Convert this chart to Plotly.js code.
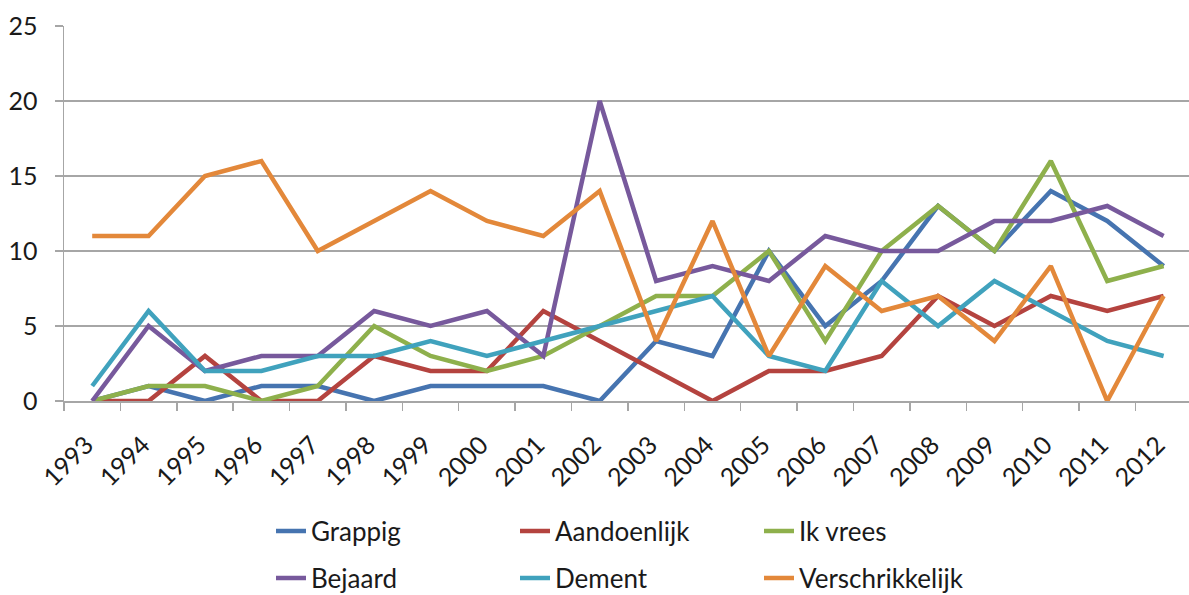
<!DOCTYPE html>
<html>
<head>
<meta charset="utf-8">
<script src="https://cdn.plot.ly/plotly-3.0.1.min.js"></script>
<style>
  html, body { margin: 0; padding: 0; background: #fff; }
  #chart { width: 1189px; height: 595px; }
</style>
</head>
<body>
<div id="chart"></div>
<script>
const years = ["1993","1994","1995","1996","1997","1998","1999","2000","2001","2002",
               "2003","2004","2005","2006","2007","2008","2009","2010","2011","2012"];

const grappig         = [0,1,0,1,1,0,1,1,1,0,4,3,10,5,8,13,10,14,12,9];
const aandoenlijk     = [0,0,3,0,0,3,2,2,6,4,2,0,2,2,3,7,5,7,6,7];
const ikVrees         = [0,1,1,0,1,5,3,2,3,5,7,7,10,4,10,13,10,16,8,9];
const bejaard         = [0,5,2,3,3,6,5,6,3,20,8,9,8,11,10,10,12,12,13,11];
const dement          = [1,6,2,2,3,3,4,3,4,5,6,7,3,2,8,5,8,6,4,3];
const verschrikkelijk = [11,11,15,16,10,12,14,12,11,14,4,12,3,9,6,7,4,9,0,7];

const seriesNames = ["Grappig","Aandoenlijk","Ik vrees","Bejaard","Dement","Verschrikkelijk"];
const seriesData  = [grappig, aandoenlijk, ikVrees, bejaard, dement, verschrikkelijk];
const colors = ["#4674B0","#B4433F","#8EB04C","#77599C","#40A2BD","#E3883A"];
const legendOf = ["legend","legend","legend","legend2","legend2","legend2"];

const FONT = "Lato, 'Liberation Sans', sans-serif";
const TXT = "#1a1a1a";
const GRID = "#A6A6A6";

const traces = seriesNames.map((name, i) => ({
  type: "scatter",
  mode: "lines",
  name: name,
  x: years,
  y: seriesData[i],
  line: { color: colors[i], width: 4.5 },
  legend: legendOf[i],
  hoverinfo: "x+y+name"
}));

const legendBase = {
  orientation: "h",
  xref: "container",
  yref: "container",
  xanchor: "left",
  yanchor: "middle",
  x: 271 / 1189,
  entrywidth: 199,
  entrywidthmode: "pixels",
  font: { family: FONT, size: 26, color: TXT },
  bgcolor: "rgba(0,0,0,0)",
  borderwidth: 0,
  itemwidth: 30,
  traceorder: "normal"
};

const layout = {
  width: 1189,
  height: 595,
  margin: { l: 64, r: 0, t: 26, b: 194, pad: 0, autoexpand: false },
  paper_bgcolor: "#ffffff",
  plot_bgcolor: "#ffffff",
  font: { family: FONT, size: 25, color: TXT },
  showlegend: true,
  legend: Object.assign({}, legendBase, { y: (595 - 531) / 595 }),
  legend2: Object.assign({}, legendBase, { y: (595 - 578) / 595 }),
  xaxis: {
    type: "category",
    range: [-0.5, 19.45],
    tickson: "boundaries",
    ticks: "outside",
    ticklen: 8,
    tickwidth: 1.5,
    tickcolor: GRID,
    tickangle: -45,
    ticklabelstandoff: 18,
    ticklabelshift: -6,
    showgrid: false,
    showline: true,
    linecolor: GRID,
    linewidth: 1.5,
    zeroline: false,
    automargin: false,
    tickfont: { family: FONT, size: 25, color: TXT },
    fixedrange: true
  },
  yaxis: {
    range: [0, 25],
    dtick: 5,
    tick0: 0,
    ticks: "outside",
    ticklen: 8,
    tickwidth: 1.5,
    tickcolor: GRID,
    showgrid: true,
    gridcolor: GRID,
    gridwidth: 1.5,
    showline: true,
    linecolor: GRID,
    linewidth: 1.5,
    zeroline: false,
    automargin: false,
    ticklabelstandoff: 12,
    tickfont: { family: FONT, size: 25, color: TXT },
    fixedrange: true
  }
};

Plotly.newPlot("chart", traces, layout, { displayModeBar: false, staticPlot: true });
</script>
</body>
</html>
